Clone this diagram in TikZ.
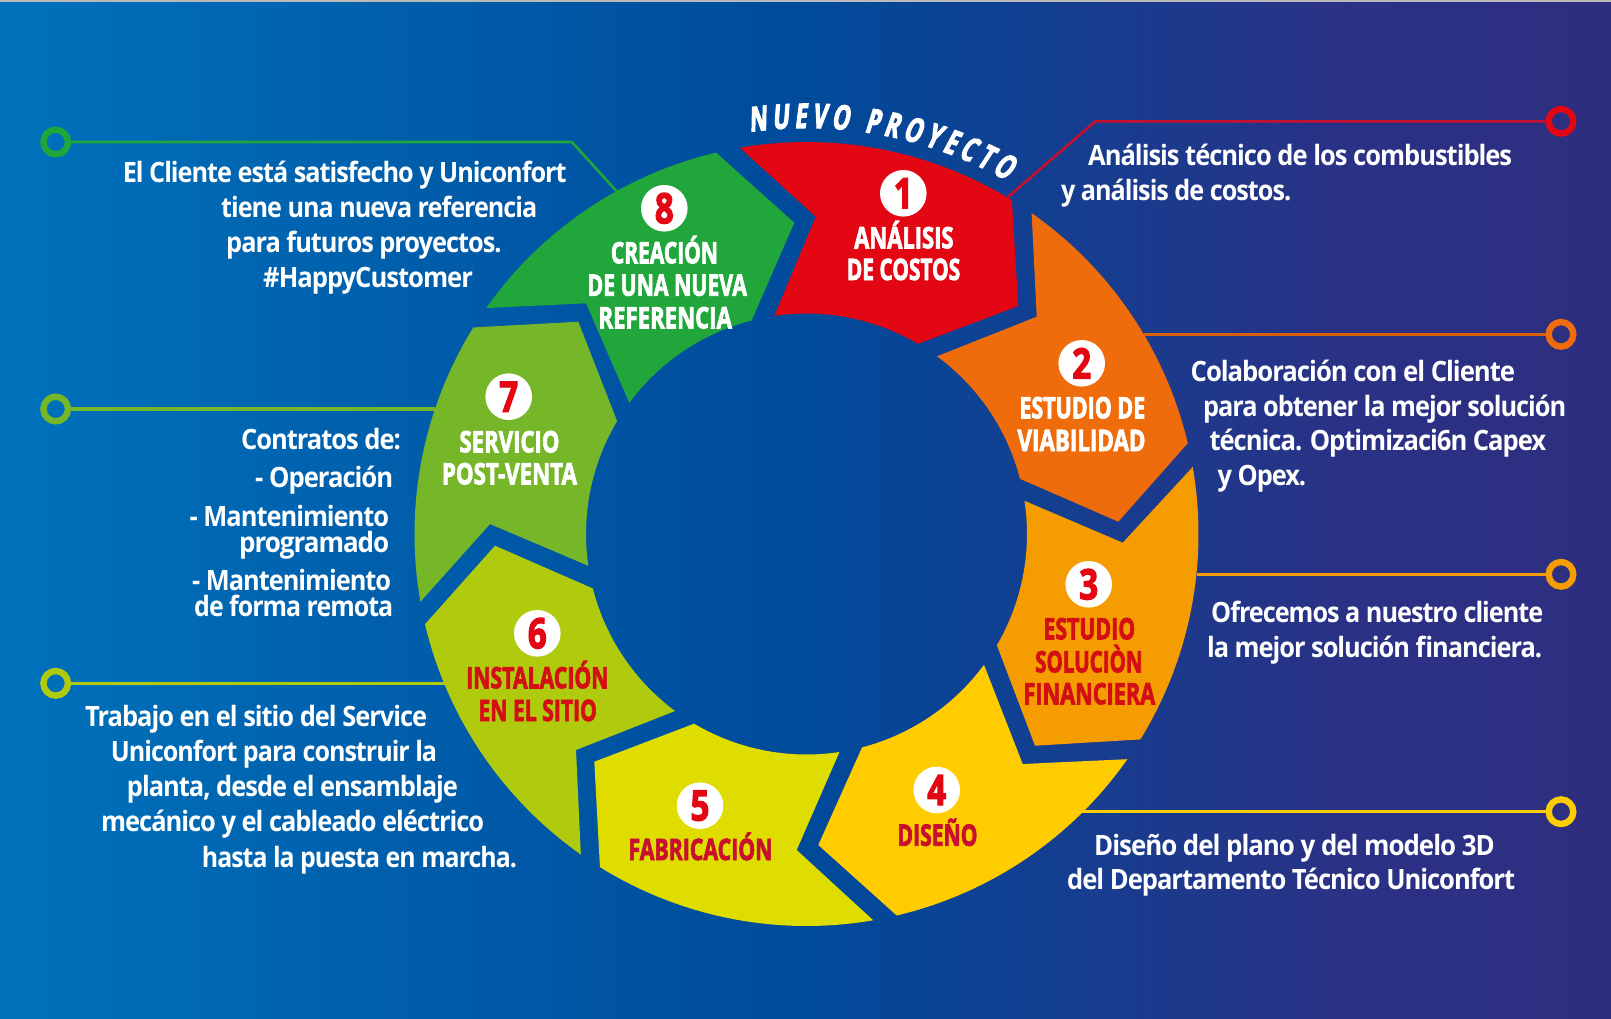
\documentclass[tikz,border=0pt]{standalone}
\usepackage{graphicx}
\usepackage{fontspec}
\usetikzlibrary{decorations.text}
\setmainfont{Open Sans}
\newfontfamily\bodyf{Open Sans}[LetterSpace=-4]
\newfontfamily\headf{Open Sans}[BoldFeatures={FakeBold=3}]
\newfontfamily\nuevof{Open Sans}[BoldFeatures={FakeBold=3,FakeSlant=0.14,FakeStretch=0.64}]
\definecolor{cR}{HTML}{E30613}
\definecolor{cO}{HTML}{EE6C0B}
\definecolor{cA}{HTML}{F59C00}
\definecolor{cY}{HTML}{FFCC00}
\definecolor{cL}{HTML}{DFDC00}
\definecolor{cS}{HTML}{B0CB0E}
\definecolor{cG}{HTML}{76B72A}
\definecolor{cD}{HTML}{20A63B}
\definecolor{cRl}{HTML}{C8102E}
\definecolor{cLab}{HTML}{D40F14}
\definecolor{bgA}{HTML}{0072BC}
\definecolor{bgB}{HTML}{004A9A}
\definecolor{bgC}{HTML}{2B3185}
\definecolor{bgD}{HTML}{2E2E80}
\pgfdeclarehorizontalshading{bgsh}{100bp}{color(0bp)=(bgA);color(25bp)=(bgA);color(50bp)=(bgB);color(67bp)=(bgC);color(75bp)=(bgD);color(100bp)=(bgD)}
\def\Cc{806.5,-534}
% colour, outer from, outer to, corner, inner from, inner to, notch
\newcommand\segm[7]{\fill[#1] ([shift={(\Cc)}]#2:392) arc[start angle=#2,end angle=#3,radius=392pt] -- (#4) -- ([shift={(\Cc)}]#5:220.5) arc[start angle=#5,end angle=#6,radius=220.5pt] -- (#7) -- cycle;}
\newcommand\tline[5]{\node[tl] (#1) at (#2,-#4) {\resizebox{\fpeval{#3-(#2)}pt}{\height}{#5}};}
\newcommand\headl[6]{\node[hd,text=#6] (#1) at (#2,-#4) {\resizebox{\fpeval{#3-(#2)}pt}{\height}{#5}};}
\newcommand\numb[4]{\node[numc] (#1) at (#2,-#3) {\resizebox{19pt}{\height}{#4}};}
\tikzset{
  x=1pt,y=1pt,
  tl/.style={anchor=base west,inner sep=0pt,yshift=-0.7pt,text=white,font=\bodyf\bfseries\fontsize{28}{34}\selectfont},
  hd/.style={anchor=base west,inner sep=0pt,font=\headf\bfseries\fontsize{29.5}{35}\selectfont},
  numc/.style={circle,fill=white,minimum size=46.6pt,inner sep=0pt,text=cR,font=\headf\bfseries\fontsize{42}{45}\selectfont},
  ringn/.style={circle,minimum size=24.6pt,inner sep=0pt,line width=6.4pt},
  conn/.style={line width=3.2pt,line join=miter},
}
\begin{document}
\begin{tikzpicture}
\useasboundingbox (0,0) rectangle (1611,-1018);
\shade[shading=bgsh] (0,0) rectangle (1611,-1018);
\fill[gray!55] (0,0) rectangle (1611,-1.5);
% rings
\node[ringn,draw=cR] (r1) at (1561,-121.3) {};
\node[ringn,draw=cO] (r2) at (1561,-334.3) {};
\node[ringn,draw=cA] (r3) at (1561,-574.3) {};
\node[ringn,draw=cY] (r4) at (1561,-811.7) {};
\node[ringn,draw=cS] (r6) at (55.7,-683.3) {};
\node[ringn,draw=cG] (r7) at (55.7,-409) {};
\node[ringn,draw=cD] (r8) at (55.7,-142) {};
% connector ends
\coordinate (k1) at (1095.4,-121.3);
\coordinate (e1) at (1008,-197);
\coordinate (e2) at (1143.8,-334.3);
\coordinate (e3) at (1196.6,-574.3);
\coordinate (e4) at (1080,-811.7);
\coordinate (e6) at (445,-683.3);
\coordinate (e7) at (435,-409);
\coordinate (k8) at (571.9,-142);
\coordinate (e8) at (617,-191.7);
\draw[conn,cRl,line width=2.6pt] (r1.west) -- (k1) -- (e1);
\draw[conn,cO!90!black] (r2.west) -- (e2);
\draw[conn,cA] (r3.west) -- (e3);
\draw[conn,cY] (r4.west) -- (e4);
\draw[conn,cS] (r6.east) -- (e6);
\draw[conn,cG] (r7.east) -- (e7);
\draw[conn,cD,line width=2.6pt] (r8.east) -- (k8) -- (e8);
% segments
\segm{cR}{99.8}{58.4}{1018.3,-306}{59.6}{98.4}{815.7,-216.7}
\segm{cO}{54.95}{13.4}{1118.3,-521.7}{14.5}{53.7}{1036.7,-316.7}
\segm{cA}{9.85}{-31.6}{1035,-745.7}{-30.3}{8.67}{1122.7,-542.7}
\segm{cY}{-35.06}{-76.7}{818.3,-845}{-75.4}{-36.4}{1022.7,-764}
\segm{cL}{-80.2}{-121.8}{594.3,-761.7}{-120.65}{-81.4}{796.7,-850}
\segm{cS}{-125.15}{-166.7}{495,-545.7}{-165.7}{-126.6}{576,-750}
\segm{cG}{189.95}{148.2}{578.3,-321.7}{149.2}{188.3}{490,-524}
\segm{cD}{144.8}{103.34}{794.3,-222.7}{104.4}{143.5}{586,-303.3}
% numbers
\numb{n1}{903.3}{193.3}{1}
\numb{n2}{1081.7}{363.3}{2}
\numb{n3}{1088.7}{584.3}{3}
\numb{n4}{936.7}{790}{4}
\numb{n5}{700}{805.7}{5}
\numb{n6}{537.3}{633.3}{6}
\numb{n7}{508.7}{396.7}{7}
\numb{n8}{664.3}{208.3}{8}
% segment labels
\headl{h1a}{854}{953.3}{248.3}{ANÁLISIS}{white}
\headl{h1b}{846.7}{960}{280}{DE COSTOS}{white}
\headl{h2a}{1019.3}{1145}{418.3}{ESTUDIO DE}{white}
\headl{h2b}{1017.3}{1145.3}{451}{VIABILIDAD}{white}
\headl{h3a}{1043.3}{1135}{639.3}{ESTUDIO}{cLab}
\headl{h3b}{1035}{1142.3}{672.3}{SOLUCIÒN}{cLab}
\headl{h3c}{1023.3}{1155}{704.3}{FINANCIERA}{cLab}
\headl{h4a}{897.3}{977.3}{845.7}{DISEÑO}{cRl}
\headl{h5a}{628.3}{772.3}{860}{FABRICACIÓN}{cRl}
\headl{h6a}{466}{608.3}{688.3}{INSTALACIÓN}{cLab}
\headl{h6b}{478.3}{596.7}{721}{EN EL SITIO}{cLab}
\headl{h7a}{459.3}{559.3}{452.3}{SERVICIO}{white}
\headl{h7b}{441.7}{576.7}{484.3}{POST-VENTA}{white}
\headl{h8a}{610.7}{717.7}{263.3}{CREACIÓN}{white}
\headl{h8b}{587.3}{746.7}{295.7}{DE UNA NUEVA}{white}
\headl{h8c}{598.3}{731.7}{328.3}{REFERENCIA}{white}
% arc title
\path[decorate,decoration={text along path,text={|\nuevof\bfseries\fontsize{34}{38}\selectfont\color{white}|NUEVO PROYECTO},text align={fit to path}}] ([shift={(\Cc)}]98:406) arc[start angle=98,end angle=60.5,radius=406pt];
% descriptions
\tline{t1a}{1088}{1512}{165}{Análisis técnico de los combustibles}
\tline{t1b}{1060.8}{1291}{200}{y análisis de costos.}
\tline{t2a}{1190.4}{1515}{380.7}{Colaboración con el Cliente}
\tline{t2b}{1202.8}{1566}{415.7}{para obtener la mejor solución}
\tline{t2c}{1209.3}{1546}{450}{técnica. Optimizaci6n Capex}
\tline{t2d}{1217.3}{1306}{485}{y Opex.}
\tline{t3a}{1211}{1543}{621.7}{Ofrecemos a nuestro cliente}
\tline{t3b}{1206.8}{1542}{656.7}{la mejor solución financiera.}
\tline{t4a}{1094}{1494.5}{855}{Diseño del plano y del modelo 3D}
\tline{t4b}{1067}{1515}{889}{del Departamento Técnico Uniconfort}
\tline{t8a}{122.6}{566.5}{181.7}{El Cliente está satisfecho y Uniconfort}
\tline{t8b}{221}{537}{216.7}{tiene una nueva referencia}
\tline{t8c}{226}{501.4}{251.7}{para futuros proyectos.}
\tline{t8d}{263}{472.7}{286.7}{\#HappyCustomer}
\tline{t7a}{240.8}{400.8}{449}{Contratos de:}
\tline{t7b}{255}{393}{487}{- Operación}
\tline{t7c}{189.5}{389}{525.7}{- Mantenimiento}
\tline{t7d}{239}{389}{551.7}{programado}
\tline{t7e}{192}{391}{589.3}{- Mantenimiento}
\tline{t7f}{194}{393}{616}{de forma remota}
\tline{t6a}{85}{427}{726}{Trabajo en el sitio del Service}
\tline{t6b}{110.7}{437}{761}{Uniconfort para construir la}
\tline{t6c}{126.7}{457.7}{796}{planta, desde el ensamblaje}
\tline{t6d}{101}{484}{831}{mecánico y el cableado eléctrico}
\tline{t6e}{201.7}{516.7}{866.7}{hasta la puesta en marcha.}
\end{tikzpicture}
\end{document}
